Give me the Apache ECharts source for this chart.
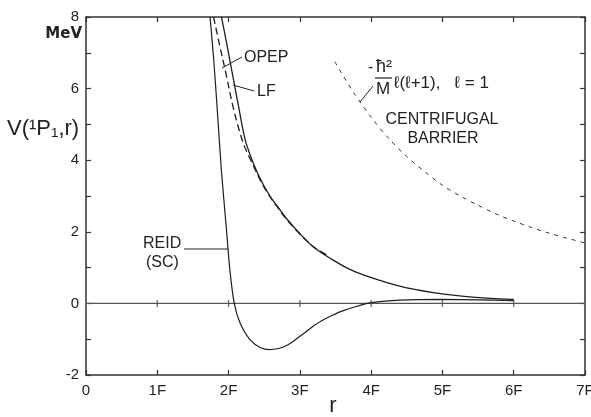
<!DOCTYPE html>
<html><head><meta charset="utf-8">
<script src="https://cdn.jsdelivr.net/npm/echarts@6/dist/echarts.min.js"></script>
<style>html,body{margin:0;padding:0;background:#fff}#c{width:591px;height:417px}</style>
</head><body><div id="c"></div>
<script>
// ---- data ----
const xTickValues = [0, 1, 2, 3, 4, 5, 6, 7];
const xTickLabels = ['0', '1F', '2F', '3F', '4F', '5F', '6F', '7F'];
const yTickLabels = ['-2', '0', '2', '4', '6', '8'];

const reidR = [1.74, 1.79, 1.84, 1.90, 1.97, 2.02, 2.08, 2.16, 2.30, 2.45, 2.58, 2.70, 2.80, 2.90, 3.0, 3.1, 3.2, 3.3, 3.45, 3.6, 3.8, 4.0, 4.4, 5.0, 5.5, 6.0];
const reidV = [8.0, 6.85, 5.45, 3.7, 2.07, 0.9, 0.0, -0.54, -1.01, -1.24, -1.29, -1.26, -1.19, -1.07, -0.92, -0.77, -0.62, -0.49, -0.34, -0.21, -0.08, 0.02, 0.09, 0.11, 0.10, 0.08];

const lfR = [1.90, 1.97, 2.04, 2.09, 2.15, 2.20, 2.25, 2.35, 2.46, 2.58, 2.67, 2.80, 3.0, 3.2, 3.45, 3.7, 3.94, 4.4, 4.87, 5.34, 6.0];
const lfV = [8.0, 7.3, 6.56, 6.03, 5.4, 4.87, 4.45, 3.9, 3.42, 3.0, 2.75, 2.4, 1.95, 1.56, 1.23, 0.95, 0.76, 0.48, 0.30, 0.19, 0.11];

const opepR = [1.79, 1.87, 1.96, 2.05, 2.14, 2.22, 2.30, 2.46, 2.58, 2.67, 2.80, 3.0, 3.2, 3.4];
const opepV = [8.0, 7.25, 6.45, 5.6, 4.9, 4.4, 4.05, 3.38, 2.98, 2.73, 2.38, 1.94, 1.57, 1.33];

const cfR = [3.49, 3.75, 4.0, 4.25, 4.5, 4.75, 5.0, 5.25, 5.5, 5.75, 6.0, 6.25, 6.5, 6.75, 7.0];
const cfV = [6.75, 5.9, 5.2, 4.6, 4.1, 3.68, 3.3, 3.0, 2.74, 2.5, 2.3, 2.12, 1.96, 1.82, 1.69];

const zeroLineR = [0, 7];
const zeroTickR = [1, 2, 3, 4, 5, 6];

// ---- chart ----
const pairs = (xs, ys) => xs.map((x, i) => [x, ys[i]]);
const FONT = '"Liberation Sans", Arial, sans-serif';
const INK = '#222';
const chart = echarts.init(document.getElementById('c'), null, { renderer: 'canvas' });

const axisCommon = {
  type: 'value', interval: 1,
  axisLine: { show: true, onZero: false, lineStyle: { color: '#333', width: 1.5 } },
  axisTick: { show: true, inside: true, length: 5, lineStyle: { color: '#333', width: 1.2 } },
  splitLine: { show: false }
};

const text = (x, y, t, style) => ({
  type: 'text', x: x, y: y, silent: true,
  style: Object.assign({ text: t, fill: INK, font: '16px ' + FONT, textVerticalAlign: 'middle', verticalAlign: 'middle' }, style || {})
});
const seg = (x1, y1, x2, y2, w) => ({
  type: 'line', silent: true, shape: { x1: x1, y1: y1, x2: x2, y2: y2 },
  style: { stroke: INK, lineWidth: w || 1 }
});

chart.setOption({
  animation: false,
  backgroundColor: '#fff',
  grid: { left: 86, right: 6, top: 17, bottom: 42, containLabel: false, outerBoundsMode: 'none' },
  xAxis: [
    Object.assign({}, axisCommon, {
      min: 0, max: 7, position: 'bottom',
      axisLabel: { show: true, margin: 8, color: INK, fontSize: 15, fontFamily: FONT,
        formatter: v => xTickLabels[xTickValues.indexOf(Math.round(v))] || '',
        showMaxLabel: true, showMinLabel: true }
    }),
    Object.assign({}, axisCommon, { min: 0, max: 7, position: 'top', axisLabel: { show: false } })
  ],
  yAxis: [
    Object.assign({}, axisCommon, {
      min: -2, max: 8, position: 'left',
      axisLabel: { show: true, margin: 7, color: INK, fontSize: 15, fontFamily: FONT,
        formatter: v => { const s = String(Math.round(v)); return yTickLabels.indexOf(s) >= 0 ? s : ''; } }
    }),
    Object.assign({}, axisCommon, { min: -2, max: 8, position: 'right', axisLabel: { show: false } })
  ],
  series: [
    { type: 'line', data: pairs(zeroLineR, [0, 0]), symbol: 'none', silent: true,
      lineStyle: { color: '#555', width: 1.2 } },
    { type: 'scatter', data: zeroTickR.map(r => [r, 0]), symbol: 'rect', symbolSize: [1.3, 7], silent: true,
      itemStyle: { color: '#444' } },
    { name: 'REID', type: 'line', data: pairs(reidR, reidV), symbol: 'none', smooth: 0.3, silent: true,
      lineStyle: { color: '#1e1e1e', width: 1.2 } },
    { name: 'LF', type: 'line', data: pairs(lfR, lfV), symbol: 'none', smooth: 0.35, silent: true,
      lineStyle: { color: '#1e1e1e', width: 1.3 } },
    { name: 'OPEP', type: 'line', data: pairs(opepR, opepV), symbol: 'none', smooth: 0.35, silent: true,
      lineStyle: { color: '#1e1e1e', width: 1.3, type: [7, 4] } },
    { name: 'Centrifugal', type: 'line', data: pairs(cfR, cfV), symbol: 'none', smooth: 0.3, silent: true,
      lineStyle: { color: '#333', width: 1, type: [4, 5] } }
  ],
  graphic: [
    // axis names
    text(7, 129, "V(¹P₁,r)", { font: '22px ' + FONT }),
    text(82, 34, 'MeV', { font: 'bold 15px "DejaVu Sans", sans-serif', textAlign: 'right', align: 'right' }),
    text(333, 406, 'r', { font: '22px ' + FONT, textAlign: 'center', align: 'center' }),
    // OPEP / LF labels
    text(244, 58, 'OPEP'),
    seg(222, 68, 242, 57),
    text(257, 92, 'LF'),
    seg(233, 85, 254, 91),
    // REID label
    text(143, 244, 'REID'),
    text(146, 263, '(SC)'),
    seg(184, 249, 228, 249),
    // centrifugal barrier
    text(368, 68, '-', { font: '16px ' + FONT }),
    text(376, 67, 'ħ²', { font: '18px ' + FONT }),
    seg(375, 78, 392, 78, 1.2),
    text(383, 89, 'M', { font: '17px ' + FONT, textAlign: 'center', align: 'center' }),
    text(394, 83, 'ℓ(ℓ+1),   ℓ = 1', { font: '17px ' + FONT }),
    seg(360, 102, 373, 86),
    text(442, 120, 'CENTRIFUGAL', { textAlign: 'center', align: 'center' }),
    text(443, 139, 'BARRIER', { textAlign: 'center', align: 'center' })
  ]
});
</script>
</body></html>
